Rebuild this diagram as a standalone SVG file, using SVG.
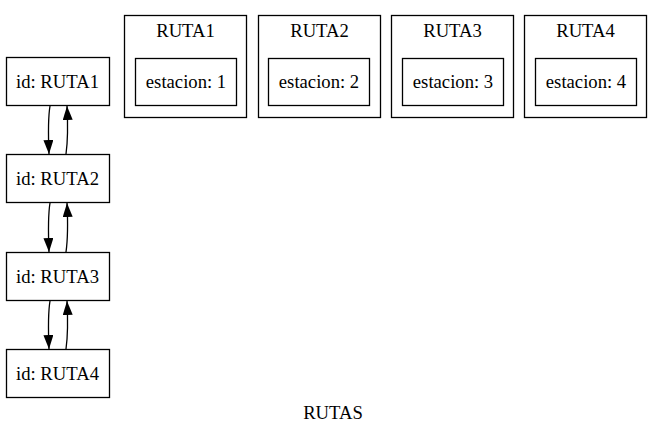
<svg xmlns="http://www.w3.org/2000/svg" width="663" height="435" viewBox="0 0 663 435">
<defs>
<style>
text{font-family:"Liberation Serif","Times New Roman",serif;font-size:18.67px;fill:#000;text-anchor:middle}
.n{fill:#fff;stroke:#000;stroke-width:1.3}
.c{fill:none;stroke:#000;stroke-width:1.3}
.e{fill:none;stroke:#000;stroke-width:1.3}
</style>
<marker id="ah" viewBox="0 0 14 10" refX="14" refY="5" markerWidth="14" markerHeight="10" markerUnits="userSpaceOnUse" orient="auto"><path d="M0,0 L14,5 L0,10 Z" fill="#000"/></marker>
</defs>
<rect width="663" height="435" fill="#fff"/>
<g font-family="Liberation Serif">
<g id="clusters">
<g id="cluster_RUTA1"><rect class="c" x="124.5" y="15.5" width="122" height="102"/><text x="185.5" y="37">RUTA1</text></g>
<g id="cluster_RUTA2"><rect class="c" x="258.5" y="15.5" width="122" height="102"/><text x="319.5" y="37">RUTA2</text></g>
<g id="cluster_RUTA3"><rect class="c" x="391.5" y="15.5" width="122" height="102"/><text x="452.5" y="37">RUTA3</text></g>
<g id="cluster_RUTA4"><rect class="c" x="524.5" y="15.5" width="122" height="102"/><text x="585.5" y="37">RUTA4</text></g>
</g>
<g id="est1"><rect class="n" x="135.5" y="58.5" width="101" height="47"/><text x="186" y="88">estacion: 1</text></g>
<g id="est2"><rect class="n" x="268.5" y="58.5" width="101" height="47"/><text x="319" y="88">estacion: 2</text></g>
<g id="est3"><rect class="n" x="402.5" y="58.5" width="101" height="47"/><text x="453" y="88">estacion: 3</text></g>
<g id="est4"><rect class="n" x="535.5" y="58.5" width="101" height="47"/><text x="586" y="88">estacion: 4</text></g>
<g id="r1"><rect class="n" x="6.5" y="57.5" width="103" height="48"/><text x="57.5" y="87.5">id: RUTA1</text></g>
<g id="r2"><rect class="n" x="6.5" y="154.5" width="103" height="48"/><text x="57.5" y="184.5">id: RUTA2</text></g>
<g id="r3"><rect class="n" x="6.5" y="252.5" width="103" height="48"/><text x="57.5" y="282.5">id: RUTA3</text></g>
<g id="r4"><rect class="n" x="6.5" y="349.5" width="103" height="48"/><text x="57.5" y="379.5">id: RUTA4</text></g>
<g id="edges">
<path class="e" d="M50,106 C48,118 48,130 49,154" marker-end="url(#ah)"/>
<path class="e" d="M66,154 C68,140 68,126 67,106" marker-end="url(#ah)"/>
<path class="e" d="M50,203 C48,215 48,227 49,252" marker-end="url(#ah)"/>
<path class="e" d="M66,252 C68,238 68,224 67,203" marker-end="url(#ah)"/>
<path class="e" d="M50,301 C48,313 48,325 49,349" marker-end="url(#ah)"/>
<path class="e" d="M66,349 C68,335 68,321 67,301" marker-end="url(#ah)"/>
</g>
<text x="333" y="419">RUTAS</text>
</g>
</svg>
